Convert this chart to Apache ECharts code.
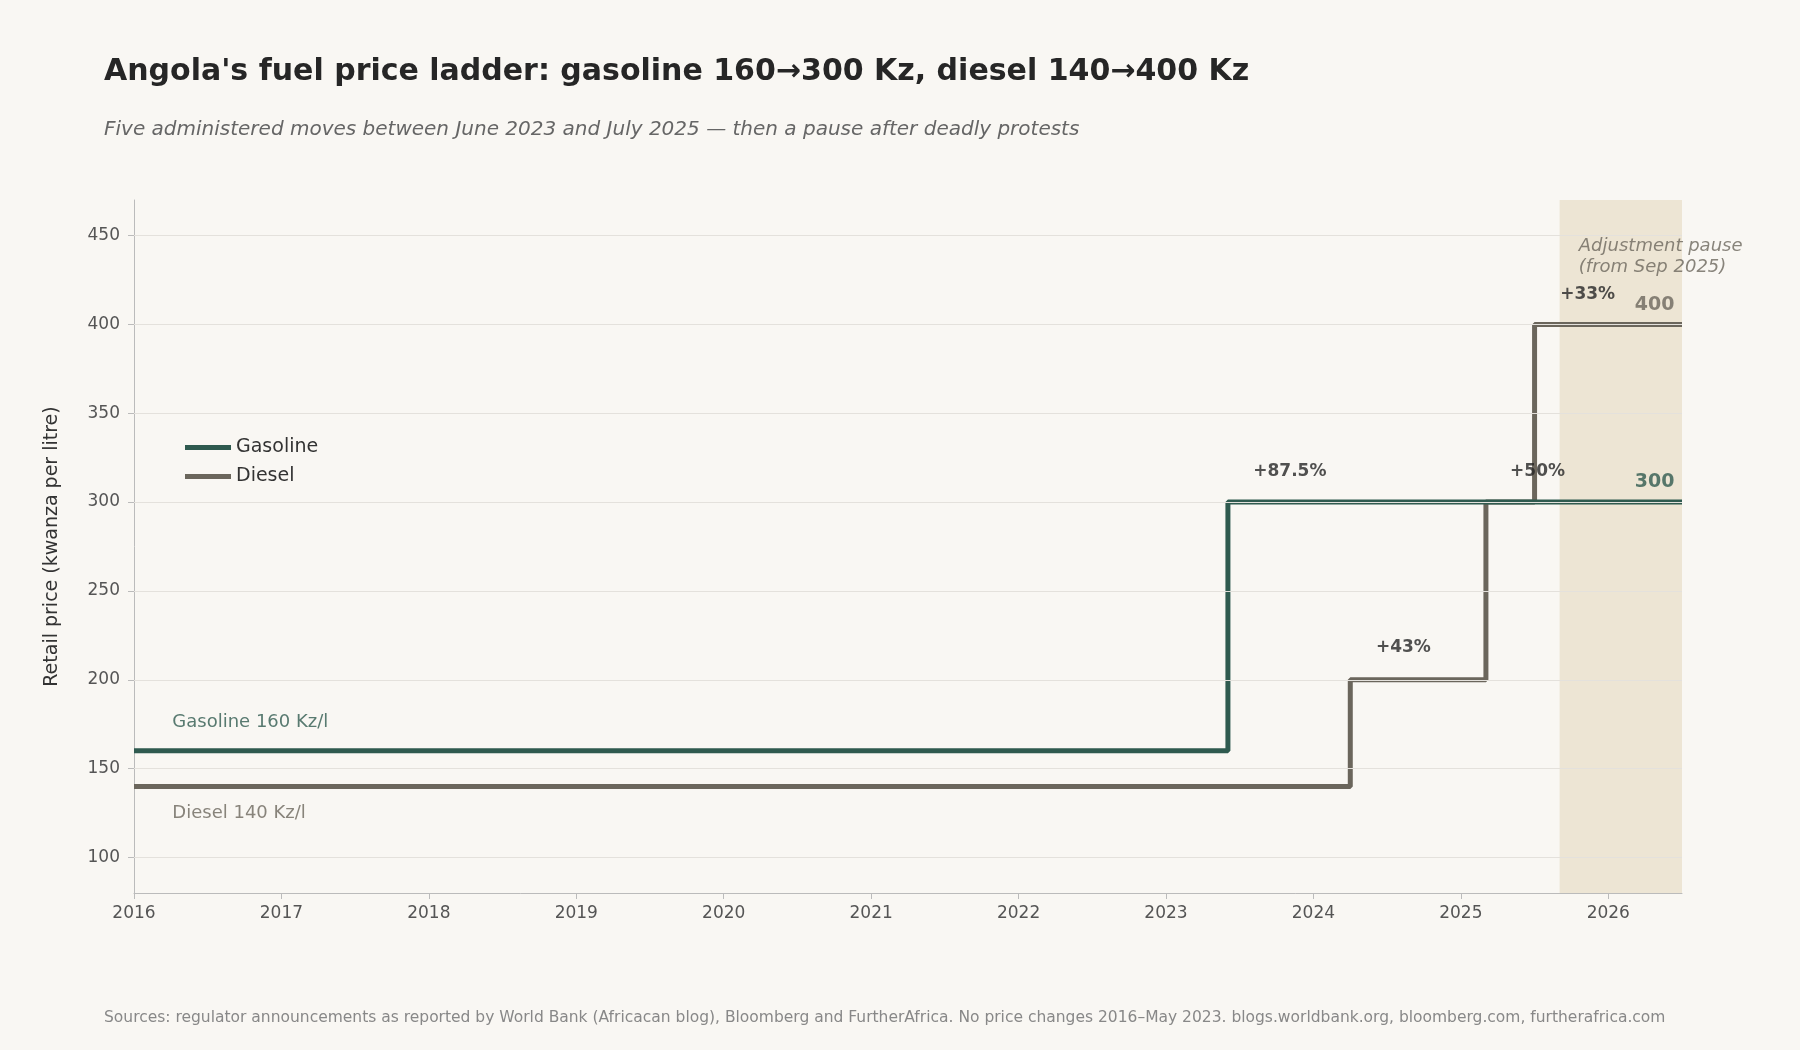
<!DOCTYPE html>
<html>
<head>
<meta charset="utf-8">
<script src="https://cdn.jsdelivr.net/npm/echarts@6/dist/echarts.min.js"></script>
<style>html,body{margin:0;background:#f9f7f3}#c{width:1800px;height:1050px}</style>
</head>
<body>
<div id="c"></div>
<script>
const gasoline = [[2016, 160], [2023.42, 160], [2023.42, 300], [2026.5, 300]];
const diesel = [[2016, 140], [2024.25, 140], [2024.25, 200], [2025.17, 200], [2025.17, 300], [2025.5, 300], [2025.5, 400], [2026.5, 400]];
const yTicks = [100, 150, 200, 250, 300, 350, 400, 450];
const pauseStart = 2025.67;
const changeNotes = [
    { x: 2023.84, y: 317, text: '+87.5%' },
    { x: 2024.61, y: 218, text: '+43%' },
    { x: 2025.52, y: 317, text: '+50%' },
    { x: 2025.86, y: 417, text: '+33%' }
];

const GAS = '#2f5a4f', DSL = '#6b665c';

const chart = echarts.init(document.getElementById('c'));

const noteData = changeNotes.map(n => ({ value: [n.x, n.y], label: { formatter: n.text } }));

chart.setOption({
    backgroundColor: '#f9f7f3',
    animation: false,
    textStyle: { fontFamily: 'DejaVu Sans' },
    title: [
        { text: "Angola's fuel price ladder: gasoline 160→300 Kz, diesel 140→400 Kz", left: 99, top: 52,
          textStyle: { fontSize: 30, fontWeight: 'bold', color: '#262626', fontFamily: 'DejaVu Sans' } },
        { text: 'Five administered moves between June 2023 and July 2025 — then a pause after deadly protests', left: 99, top: 115,
          textStyle: { fontSize: 20, fontStyle: 'italic', fontWeight: 'normal', color: '#666', fontFamily: 'DejaVu Sans' } },
        { text: 'Sources: regulator announcements as reported by World Bank (Africacan blog), Bloomberg and FurtherAfrica. No price changes 2016–May 2023. blogs.worldbank.org, bloomberg.com, furtherafrica.com',
          left: 99, top: 1005, textStyle: { fontSize: 15.5, fontWeight: 'normal', color: '#888', fontFamily: 'DejaVu Sans' } }
    ],
    legend: {
        left: 180, top: 433, orient: 'vertical', itemGap: 10, itemWidth: 46, itemHeight: 5,
        icon: 'rect', textStyle: { fontSize: 19, color: '#333' },
        data: ['Gasoline', 'Diesel']
    },
    grid: { left: 134, right: 118, top: 200, bottom: 157 },
    xAxis: {
        type: 'value', min: 2016, max: 2026.5, interval: 1,
        axisLine: { lineStyle: { color: '#bbb' } },
        axisTick: { lineStyle: { color: '#bbb' }, length: 6 },
        axisLabel: { fontSize: 17, color: '#555', margin: 12, formatter: v => Number.isInteger(v) ? String(v) : '', showMaxLabel: false },
        splitLine: { show: false }
    },
    yAxis: {
        type: 'value', min: 80, max: 470,
        name: 'Retail price (kwanza per litre)', nameLocation: 'middle', nameGap: 72,
        nameTextStyle: { fontSize: 19, color: '#333' },
        axisLine: { show: true, lineStyle: { color: '#bbb' } },
        axisTick: { show: true, customValues: yTicks, lineStyle: { color: '#bbb' }, length: 6 },
        axisLabel: { customValues: yTicks, fontSize: 17, color: '#555', margin: 14 },
        splitLine: { show: false }
    },
    series: [
        {
            name: 'grid', type: 'line', data: [], silent: true,
            markLine: {
                symbol: 'none', silent: true, label: { show: false },
                lineStyle: { color: '#e4e1dc', width: 1.2, type: 'solid' },
                data: yTicks.map(v => ({ yAxis: v }))
            },
            markArea: {
                silent: true,
                itemStyle: { color: 'rgba(226,212,182,0.5)' },
                data: [[{ xAxis: pauseStart }, { xAxis: 2026.5 }]]
            }
        },
        {
            name: 'Gasoline', type: 'line', data: gasoline, symbol: 'none', z: 4,
            lineStyle: { color: GAS, width: 5 }, itemStyle: { color: GAS }
        },
        {
            name: 'Diesel', type: 'line', data: diesel, symbol: 'none', z: 3,
            lineStyle: { color: DSL, width: 5 }, itemStyle: { color: DSL }
        },
        {
            name: 'notes', type: 'scatter', symbolSize: 0, z: 6, silent: true,
            label: { show: true, position: 'inside', fontSize: 17, fontWeight: 'bold', color: '#262626' },
            data: noteData
        },
        {
            name: 'labels', type: 'scatter', symbolSize: 0, z: 6, silent: true,
            label: { show: true, position: 'inside', align: 'left' },
            data: [
                { value: [2016.26, 176], label: { formatter: 'Gasoline 160 Kz/l', fontSize: 18, color: GAS } },
                { value: [2016.26, 125], label: { formatter: 'Diesel 140 Kz/l', fontSize: 18, color: DSL } },
                { value: [2025.8, 438], label: { formatter: 'Adjustment pause\n(from Sep 2025)', fontSize: 18, fontStyle: 'italic', color: '#6b665c', lineHeight: 21 } },
                { value: [2026.18, 411], label: { formatter: '400', fontSize: 19, fontWeight: 'bold', color: DSL } },
                { value: [2026.18, 311], label: { formatter: '300', fontSize: 19, fontWeight: 'bold', color: GAS } }
            ]
        }
    ]
});
</script>
</body>
</html>
